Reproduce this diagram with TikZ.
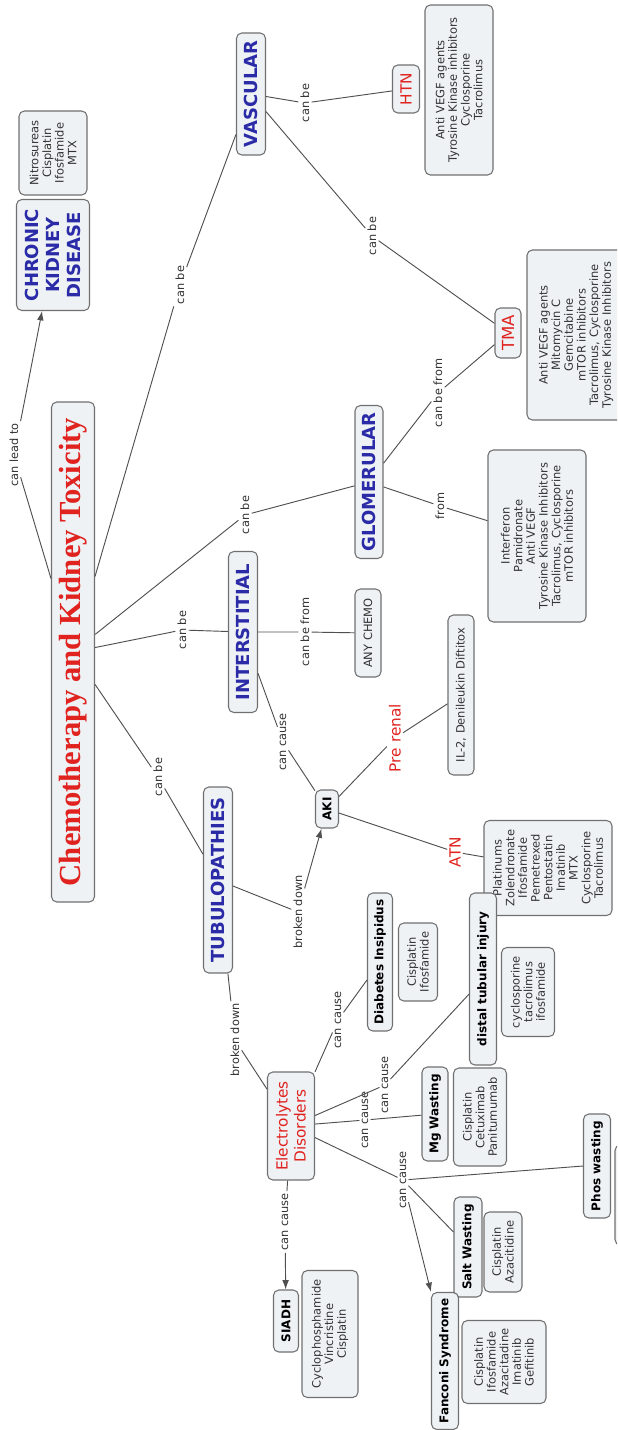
\documentclass[tikz,border=0pt]{standalone}
\usepackage{fontspec}
\setmainfont{DejaVu Sans}
\newfontfamily\titlefont{Liberation Serif}
\usetikzlibrary{arrows.meta}
\definecolor{boxfill}{HTML}{EEF2F5}
\definecolor{boxdraw}{HTML}{707070}
\definecolor{cblue}{HTML}{2B2BA8}
\definecolor{cred}{HTML}{E0231F}
\definecolor{lnk}{HTML}{505050}
\definecolor{lbl}{HTML}{303030}
\tikzset{
  sz/.style 2 args={minimum width=#1*0.75pt, minimum height=#2*0.75pt},
  box/.style={rotate=90, draw=boxdraw, fill=boxfill, rounded corners=4pt, line width=0.8pt, inner sep=2pt, align=center},
  bluebox/.style={box, text=cblue, font=\bfseries\fontsize{13.5}{16}\selectfont},
  redbox/.style={box, text=cred, font=\fontsize{11.5}{13.5}\selectfont},
  blackbox/.style={box, text=black, font=\bfseries\fontsize{9}{11}\selectfont},
  drugbox/.style={box, text=black!80, font=\fontsize{8.6}{9.5}\selectfont},
  lab/.style={rotate=90, text=lbl, font=\fontsize{8.5}{10}\selectfont, inner sep=1.5pt},
  redlab/.style={rotate=90, text=cred, font=\fontsize{11.5}{13}\selectfont, inner sep=1.5pt},
  link/.style={draw=lnk, line width=0.7pt},
  arr/.style={link, -{Latex[length=7pt,width=5pt]}}
}
\begin{document}
\begin{tikzpicture}[x=0.75pt, y=-0.75pt]
\useasboundingbox (0,0) rectangle (617,1430);
\clip (0,0) rectangle (617,1430);
% main nodes
\node[box, sz={500}{43}, text=cred, font=\titlefont\bfseries\fontsize{23}{26}\selectfont] (title) at (73,652) {Chemotherapy and Kidney Toxicity};
\node[bluebox, sz={111}{73}] (ckd) at (53,255) {CHRONIC\\KIDNEY\\DISEASE};
\node[drugbox, sz={84}{68}] (ckdd) at (53,153) {Nitrosureas\\Cisplatin\\Ifosfamide\\MTX};
\node[bluebox, sz={122}{29}] (vasc) at (251,94) {VASCULAR};
\node[redbox, sz={48}{27}] (htn) at (406,89) {HTN};
\node[drugbox, sz={170}{68}] (htnd) at (459,90) {Anti VEGF agents\\Tyrosine Kinase inhibitors\\Cyclosporine\\Tacrolimus};
\node[redbox, sz={50}{26}, font=\fontsize{12.5}{14}\selectfont] (tma) at (508,333) {TMA};
\node[drugbox, sz={170}{98}] (tmad) at (576,335) {Anti VEGF agents\\Mitomycin C\\Gemcitabine\\mTOR inhibitors\\Tacrolimus, Cyclosporine\\Tyrosine Kinase Inhibitors};
\node[bluebox, sz={153}{28}] (glom) at (369,482) {GLOMERULAR};
\node[drugbox, sz={172}{98}] (glomd) at (537,536) {Interferon\\Pamidronate\\Anti VEGF\\Tyrosine Kinase Inhibitors\\Tacrolimus, Cyclosporine\\mTOR inhibitors};
\node[bluebox, sz={161}{29}] (inter) at (243,632) {INTERSTITIAL};
\node[drugbox, sz={88}{26}] (any) at (368,633) {ANY CHEMO};
\node[bluebox, sz={186}{29}] (tub) at (218,880) {TUBULOPATHIES};
\node[blackbox, sz={38}{23}] (aki) at (327,809) {AKI};
\node[drugbox, sz={160}{26}] (il2) at (461,695) {IL-2, Denileukin Diftitox};
\node[drugbox, sz={95}{128}] (atnd) at (548,868) {Platinums\\Zolendronate\\Ifosfamide\\Pemetrexed\\Pentostatin\\Imatinib\\MTX\\Cyclosporine\\Tacrolimus};
\node[blackbox, sz={138}{25}] (di) at (380,962) {Diabetes Insipidus};
\node[drugbox, sz={78}{39}] (did) at (418,962) {Cisplatin\\Ifosfamide};
\node[blackbox, sz={172}{27}] (dist) at (483,979) {distal tubular injury};
\node[drugbox, sz={89}{53}] (distd) at (528,992) {cyclosporine\\tacrolimus\\ifosfamide};
\node[blackbox, sz={94}{26}] (mg) at (435,1114) {Mg Wasting};
\node[drugbox, sz={98}{53}] (mgd) at (480,1117) {Cisplatin\\Cetuximab\\Panitumumab};
\node[redbox, sz={108}{47}] (elec) at (291,1126) {Electrolytes\\Disorders};
\node[blackbox, sz={62}{25}] (siadh) at (286,1321) {SIADH};
\node[drugbox, sz={127}{56}] (siadhd) at (330,1334) {Cyclophosphamide\\Vincristine\\Cisplatin};
\node[blackbox, sz={104}{27}] (phos) at (597,1166) {Phos wasting};
\node[drugbox, sz={100}{50}] (phosd) at (640,1195) {};
\node[blackbox, sz={100}{28}] (salt) at (468,1247) {Salt Wasting};
\node[drugbox, sz={80}{38}] (saltd) at (503,1252) {Cisplatin\\Azacitidine};
\node[blackbox, sz={137}{27}] (fan) at (445,1361) {Fanconi Syndrome};
\node[drugbox, sz={83}{84}] (fand) at (504,1362) {Cisplatin\\Ifosfamide\\Azacitadine\\Imatinib\\Gefitinib};
% labels
\node[lab] (l1) at (14,455) {can lead to};
\node[lab] (l2) at (180,285) {can be};
\node[lab] (l3) at (245,515) {can be};
\node[lab] (l4) at (182,630) {can be};
\node[lab] (l5) at (158,777) {can be};
\node[lab] (l6) at (305,103) {can be};
\node[lab] (l7) at (372,236) {can be};
\node[lab] (l8) at (438,393) {can be from};
\node[lab] (l9) at (440,506) {from};
\node[lab] (l10) at (305,632) {can be from};
\node[lab] (l11) at (283,742) {can cause};
\node[lab] (l12) at (298,912) {broken down};
\node[redlab] (l13) at (395,738) {Pre renal};
\node[redlab] (l14) at (455,852) {ATN};
\node[lab] (l15) at (235,1040) {broken down};
\node[lab] (l16) at (338,1020) {can cause};
\node[lab] (l17) at (385,1085) {can cause};
\node[lab] (l18) at (365,1120) {can cause};
\node[lab] (l19) at (403,1180) {can cause};
\node[lab] (l20) at (285,1222) {can cause};
% connectors
\draw[link] (title) -- (l1);
\draw[arr] (l1) -- (ckd);
\draw[link] (title) -- (l2) -- (vasc);
\draw[link] (title) -- (l3) -- (glom);
\draw[link] (title) -- (l4) -- (inter);
\draw[link] (title) -- (l5) -- (tub);
\draw[link] (vasc) -- (l6) -- (htn);
\draw[link] (vasc) -- (l7) -- (tma);
\draw[link] (glom) -- (l8) -- (tma);
\draw[link] (glom) -- (l9) -- (glomd);
\draw[link] (inter) -- (l10) -- (any);
\draw[link] (inter) -- (l11) -- (aki);
\draw[link] (tub) -- (l12);
\draw[arr] (l12) -- (aki);
\draw[link] (aki) -- (l13) -- (il2);
\draw[link] (aki) -- (l14) -- (atnd);
\draw[link] (tub) -- (l15) -- (elec);
\draw[link] (elec) -- (l16) -- (di);
\draw[link] (elec) -- (l17) -- (dist);
\draw[link] (elec) -- (l18) -- (mg);
\draw[link] (elec) -- (l19);
\draw[link] (l19) -- (phos.north);
\draw[link] (l19) -- (salt);
\draw[arr] (l19) -- (fan.north east);
\draw[link] (elec) -- (l20);
\draw[arr] (l20) -- (siadh);
\end{tikzpicture}
\end{document}
